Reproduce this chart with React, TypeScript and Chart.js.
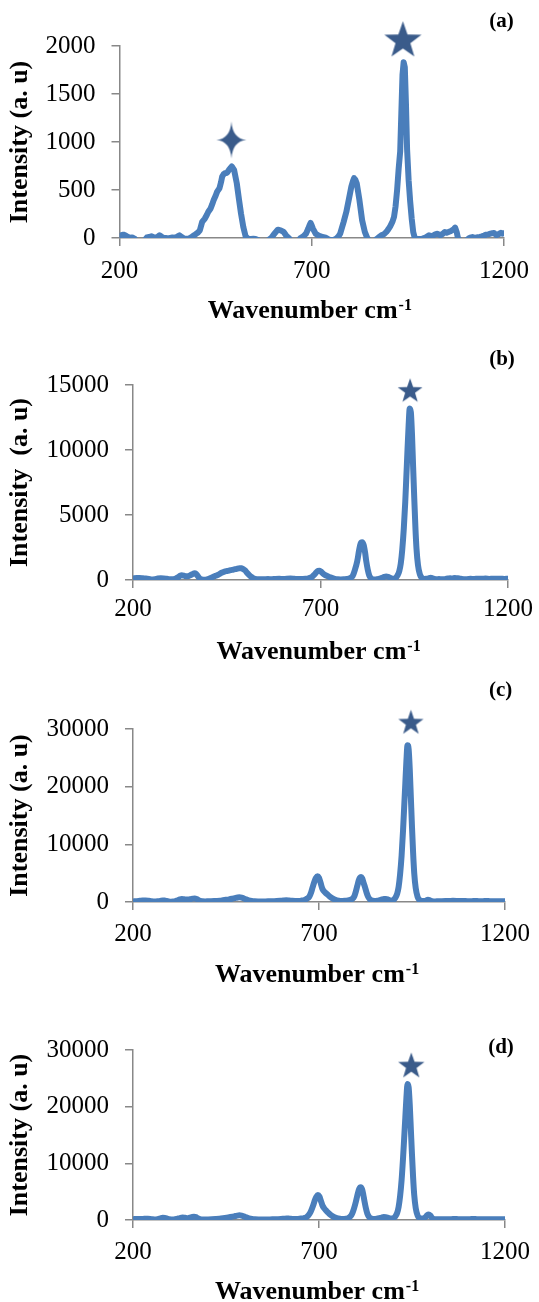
import React, { useEffect, useRef } from 'react';
import { Chart, registerables } from 'chart.js';

Chart.register(...registerables);

// ---------- data (wavenumber cm-1, intensity a.u.) ----------
const spectrumA: [number, number][] = [
  [200, 15], [205, 30], [210, 35], [216, 25], [222, 10], [227, 0], [233, 5], [240, -10], [246, -40], [252, -60],
  [260, -60], [266, -20], [271, 5], [277, 10], [283, 18], [289, 8], [295, 5], [300, 15], [304, 28], [309, 15],
  [314, 3], [320, 0], [326, -5], [332, 0], [338, 5], [344, 3], [350, 15], [356, 28], [362, 10], [368, -5],
  [375, -8], [381, -5], [386, 5], [390, 17], [395, 30], [400, 45], [405, 60], [409, 80], [415, 168], [422, 203],
  [427, 240], [431, 273], [437, 308], [441, 350], [445, 395], [450, 440], [454, 483], [460, 518], [464, 580], [467, 640],
  [471, 665], [474, 675], [480, 680], [486, 717], [492, 745], [498, 710], [505, 570], [511, 395], [516, 255], [522, 115],
  [528, 17], [535, -10], [542, -10], [548, -8], [554, -10], [560, -20], [566, -50], [574, -60], [582, -50], [588, -20],
  [595, 3], [603, 45], [608, 70], [612, 87], [619, 80], [627, 63], [633, 28], [642, -7], [648, -40], [656, -50],
  [664, -30], [672, 3], [679, 20], [685, 45], [691, 98], [694, 130], [697, 157], [700, 130], [703, 98], [710, 45],
  [716, 30], [723, 17], [730, 10], [736, 3], [742, -10], [748, -20], [756, -20], [762, -10], [766, 3], [770, 20],
  [774, 45], [778, 100], [783, 168], [790, 273], [797, 413], [803, 535], [807, 590], [810, 623], [813, 610], [817, 570],
  [824, 395], [831, 185], [838, 63], [844, 3], [850, -30], [858, -40], [866, -20], [873, 3], [881, 28], [888, 40],
  [894, 63], [899, 90], [904, 122], [910, 170], [914, 220], [918, 330], [922, 500], [926, 720], [930, 900], [933, 1300],
  [936, 1700], [939, 1830], [942, 1780], [945, 1400], [948, 920], [952, 600], [956, 380], [960, 200], [964, 60], [968, 0],
  [972, -10], [980, -10], [988, -7], [996, 5], [1005, 28], [1013, 20], [1020, 35], [1026, 45], [1035, 28], [1041, 45],
  [1046, 63], [1051, 55], [1056, 63], [1061, 70], [1065, 80], [1070, 95], [1073, 108], [1077, 60], [1080, 3], [1086, -30],
  [1094, -40], [1102, -25], [1108, -5], [1112, 3], [1118, 10], [1125, 0], [1132, 8], [1137, 12], [1142, 17], [1148, 25],
  [1154, 35], [1159, 38], [1165, 45], [1170, 50], [1174, 52], [1180, 30], [1186, 40], [1192, 55], [1196, 45], [1200, 50],
];

const spectrumB: [number, number][] = [
  [200, 120], [210, 150], [218, 160], [226, 130], [234, 110], [242, 80], [250, 40], [258, 60], [266, 110], [274, 130],
  [282, 120], [290, 90], [298, 60], [306, 50], [314, 120], [320, 200], [326, 330], [330, 370], [336, 330], [342, 280],
  [348, 300], [354, 380], [360, 470], [364, 520], [368, 480], [372, 330], [377, 150], [382, 50], [388, 20], [394, 30],
  [400, 70], [406, 130], [412, 220], [420, 320], [428, 420], [436, 560], [444, 650], [452, 700], [460, 760], [468, 800],
  [476, 860], [484, 910], [489, 900], [494, 840], [499, 740], [504, 560], [510, 380], [516, 230], [522, 120], [530, 60],
  [540, 50], [550, 60], [560, 70], [570, 60], [580, 80], [590, 90], [600, 70], [610, 100], [620, 110], [630, 90],
  [640, 70], [650, 80], [660, 90], [670, 150], [678, 250], [684, 420], [689, 600], [693, 700], [697, 710], [701, 650],
  [706, 520], [711, 400], [718, 300], [724, 230], [730, 160], [738, 90], [746, 50], [754, 40], [762, 50], [770, 80],
  [775, 110], [780, 160], [786, 320], [792, 800], [798, 1450], [803, 2300], [807, 2800], [811, 2900], [815, 2700], [819, 2100],
  [822, 1450], [826, 800], [830, 350], [835, 120], [840, 50], [846, 40], [852, 70], [858, 110], [864, 170], [870, 240],
  [875, 270], [880, 250], [885, 180], [890, 110], [895, 90], [900, 150], [905, 340], [910, 680], [914, 1260], [918, 2330],
  [922, 3900], [926, 6000], [929, 8000], [932, 10000], [935, 11900], [938, 13200], [941, 12900], [944, 11200], [947, 8700], [950, 6300],
  [953, 4100], [956, 2400], [960, 1150], [965, 430], [970, 170], [976, 80], [982, 90], [988, 120], [994, 170], [999, 130],
  [1004, 80], [1010, 60], [1016, 80], [1022, 60], [1028, 50], [1034, 80], [1040, 110], [1046, 130], [1052, 120], [1058, 150],
  [1064, 130], [1070, 120], [1076, 80], [1082, 60], [1088, 50], [1094, 70], [1100, 90], [1110, 80], [1120, 100], [1130, 90],
  [1140, 110], [1150, 80], [1160, 100], [1170, 90], [1180, 100], [1190, 80], [1200, 100],
];

const spectrumC: [number, number][] = [
  [200, 100], [210, 150], [218, 200], [226, 250], [234, 260], [242, 200], [250, 120], [258, 80], [266, 120], [274, 200],
  [280, 280], [285, 270], [290, 180], [296, 100], [302, 60], [308, 80], [314, 150], [320, 300], [326, 450], [331, 520],
  [337, 480], [343, 420], [349, 430], [355, 500], [361, 580], [366, 620], [371, 520], [376, 330], [381, 180], [387, 110],
  [394, 100], [402, 120], [410, 140], [418, 160], [426, 180], [434, 220], [442, 300], [450, 380], [458, 460], [466, 560],
  [474, 680], [481, 780], [486, 820], [492, 760], [498, 620], [504, 450], [511, 300], [519, 190], [527, 130], [536, 100],
  [546, 90], [556, 100], [566, 120], [576, 140], [586, 160], [596, 200], [604, 260], [612, 300], [620, 260], [628, 200],
  [636, 170], [644, 180], [652, 230], [661, 350], [668, 600], [674, 940], [679, 1700], [683, 2570], [688, 3600], [692, 4200],
  [696, 4450], [700, 4200], [704, 3400], [709, 2300], [716, 1700], [723, 1290], [729, 950], [736, 640], [744, 380], [753, 230],
  [762, 180], [770, 200], [778, 280], [784, 380], [790, 550], [795, 1000], [799, 1800], [803, 2800], [807, 3800], [810, 4200],
  [813, 4350], [816, 4100], [820, 3300], [824, 2500], [828, 1600], [832, 900], [837, 450], [843, 230], [850, 180], [857, 220],
  [863, 320], [869, 440], [875, 530], [880, 540], [886, 420], [892, 280], [898, 250], [905, 700], [910, 1400], [914, 2600],
  [918, 4800], [922, 8000], [926, 12500], [929, 16500], [932, 20500], [935, 24500], [938, 27200], [941, 26500], [944, 23000], [947, 18000],
  [950, 13000], [953, 8500], [956, 5000], [960, 2400], [965, 900], [970, 350], [976, 200], [982, 180], [988, 250], [993, 400],
  [998, 300], [1004, 150], [1012, 100], [1020, 120], [1030, 140], [1040, 160], [1050, 180], [1060, 200], [1070, 190], [1080, 170],
  [1090, 160], [1100, 150], [1110, 150], [1120, 160], [1130, 150], [1140, 150], [1150, 160], [1160, 150], [1170, 150], [1180, 150],
  [1190, 150], [1200, 150],
];

const spectrumD: [number, number][] = [
  [200, 150], [210, 170], [220, 190], [230, 200], [240, 210], [250, 150], [258, 100], [266, 150], [274, 280], [280, 380],
  [286, 370], [292, 240], [298, 130], [304, 80], [310, 100], [318, 200], [326, 330], [333, 420], [340, 380], [346, 330],
  [352, 400], [358, 500], [364, 580], [369, 520], [374, 330], [380, 170], [386, 100], [394, 90], [402, 100], [412, 130],
  [422, 170], [432, 220], [442, 300], [452, 400], [462, 520], [472, 650], [480, 770], [486, 820], [492, 770], [498, 640],
  [505, 460], [512, 300], [520, 190], [528, 130], [538, 100], [548, 90], [558, 100], [568, 110], [578, 130], [588, 150],
  [598, 180], [606, 230], [613, 270], [620, 240], [628, 180], [636, 160], [644, 180], [652, 250], [660, 350], [666, 500],
  [672, 850], [678, 1500], [684, 2500], [689, 3500], [693, 4100], [697, 4400], [701, 4150], [705, 3400], [709, 2600], [714, 2050],
  [720, 1600], [726, 1200], [732, 850], [740, 520], [748, 320], [756, 220], [764, 180], [772, 220], [778, 330], [784, 600],
  [789, 1100], [794, 2000], [799, 3200], [804, 4600], [808, 5500], [812, 5800], [816, 5400], [819, 4500], [822, 3400], [826, 2100],
  [830, 1100], [835, 500], [841, 250], [848, 180], [855, 220], [862, 320], [868, 430], [874, 510], [880, 500], [886, 390],
  [892, 280], [898, 260], [905, 620], [910, 1230], [914, 2300], [918, 4200], [922, 7000], [926, 11000], [929, 14500], [932, 18000],
  [935, 21600], [938, 24000], [941, 23400], [944, 20300], [947, 15900], [950, 11500], [953, 7500], [956, 4400], [960, 2100], [965, 800],
  [970, 350], [976, 250], [982, 300], [987, 550], [991, 850], [995, 950], [999, 800], [1003, 450], [1008, 200], [1015, 120],
  [1025, 130], [1035, 140], [1045, 150], [1055, 150], [1065, 160], [1075, 150], [1085, 150], [1095, 150], [1105, 150], [1115, 160],
  [1125, 150], [1135, 150], [1145, 150], [1155, 150], [1165, 150], [1175, 150], [1185, 150], [1195, 150], [1200, 150],
];

// peak markers (wavenumber, intensity)
const markersA: [number, number][] = [[937, 2055], [491, 1021]];
const markersB: [number, number][] = [[939, 14515]];
const markersC: [number, number][] = [[947, 31040]];
const markersD: [number, number][] = [[948, 27140]];

// axis ticks
const xTicks = { min: 200, max: 1200, step: 500 };
const yRangeA = { max: 2000, step: 500 };
const yRangeB = { max: 15000, step: 5000 };
const yRangeC = { max: 30000, step: 10000 };
const yRangeD = { max: 30000, step: 10000 };

// ---------- styling ----------
const FONT = "'Liberation Serif', 'Times New Roman', Times, serif";
const LINE_COLOR = '#4A7EBB';
const STAR_COLOR = '#3A5B8A';
const AXIS_COLOR = '#888888';
const W = 539;

function makeStar(R: number): HTMLCanvasElement {
  const s = Math.ceil(2 * R + 4);
  const c = document.createElement('canvas');
  c.width = s;
  c.height = s;
  const g = c.getContext('2d')!;
  const cx = s / 2;
  const cy = s / 2;
  const r = R * 0.4;
  g.beginPath();
  for (let i = 0; i < 10; i++) {
    const ang = -Math.PI / 2 + (i * Math.PI) / 5;
    const rad = i % 2 === 0 ? R : r;
    const px = cx + rad * Math.cos(ang);
    const py = cy + rad * Math.sin(ang);
    if (i === 0) g.moveTo(px, py);
    else g.lineTo(px, py);
  }
  g.closePath();
  g.fillStyle = STAR_COLOR;
  g.fill();
  return c;
}

function makeSparkle(hw: number, hh: number): HTMLCanvasElement {
  const w = Math.ceil(2 * hw + 4);
  const h = Math.ceil(2 * hh + 4);
  const c = document.createElement('canvas');
  c.width = w;
  c.height = h;
  const g = c.getContext('2d')!;
  const cx = w / 2;
  const cy = h / 2;
  const k = 1.2;
  g.beginPath();
  g.moveTo(cx, cy - hh);
  g.quadraticCurveTo(cx + k, cy - k, cx + hw, cy);
  g.quadraticCurveTo(cx + k, cy + k, cx, cy + hh);
  g.quadraticCurveTo(cx - k, cy + k, cx - hw, cy);
  g.quadraticCurveTo(cx - k, cy - k, cx, cy - hh);
  g.closePath();
  g.fillStyle = STAR_COLOR;
  g.fill();
  return c;
}

type PanelCfg = {
  data: [number, number][];
  markers: [number, number][];
  markerStyles: () => HTMLCanvasElement[];
  yRange: { max: number; step: number };
  yTitle: string;
  label: string;
  top: number;
  height: number;
  area: { left: number; right: number; top: number; bottom: number };
  xTickPad: number;
  xTitleBase: number;
  labelPos: [number, number];
  smooth: boolean;
};

const PANELS: PanelCfg[] = [
  {
    data: spectrumA, markers: markersA, markerStyles: () => [makeStar(19.5), makeSparkle(15, 18.5)],
    yRange: yRangeA, yTitle: 'Intensity (a. u)', label: '(a)', top: 0, height: 330,
    area: { left: 119.5, right: 511, top: 46, bottom: 238 }, xTickPad: 10, xTitleBase: 318, labelPos: [501.5, 21.5], smooth: false,
  },
  {
    data: spectrumB, markers: markersB, markerStyles: () => [makeStar(13)],
    yRange: yRangeB, yTitle: 'Intensity  (a. u)', label: '(b)', top: 330, height: 330,
    area: { left: 133, right: 510, top: 55, bottom: 250 }, xTickPad: 6, xTitleBase: 329, labelPos: [502, 30], smooth: true,
  },
  {
    data: spectrumC, markers: markersC, markerStyles: () => [makeStar(13.2)],
    yRange: yRangeC, yTitle: 'Intensity (a. u)', label: '(c)', top: 660, height: 330,
    area: { left: 133, right: 510, top: 69, bottom: 242 }, xTickPad: 9, xTitleBase: 321.5, labelPos: [500.7, 30.3], smooth: true,
  },
  {
    data: spectrumD, markers: markersD, markerStyles: () => [makeStar(13.8)],
    yRange: yRangeD, yTitle: 'Intensity (a. u)', label: '(d)', top: 990, height: 312,
    area: { left: 133, right: 510, top: 60, bottom: 230 }, xTickPad: 9, xTitleBase: 309, labelPos: [501, 57.5], smooth: true,
  },
];

function textPlugin(cfg: PanelCfg) {
  return {
    id: 'panelText',
    afterDraw(chart: any) {
      const { ctx, chartArea } = chart;
      ctx.save();
      ctx.fillStyle = '#000';
      // x-axis title with superscript
      const main = 'Wavenumber cm';
      const sup = '-1';
      ctx.font = `bold 26px ${FONT}`;
      const w1 = ctx.measureText(main).width;
      ctx.font = `bold 16px ${FONT}`;
      const w2 = ctx.measureText(sup).width;
      const total = w1 + 1 + w2;
      const cx = (chartArea.left + chartArea.right) / 2 - 2;
      const x0 = cx - total / 2;
      ctx.textBaseline = 'alphabetic';
      ctx.textAlign = 'left';
      ctx.font = `bold 26px ${FONT}`;
      ctx.fillText(main, x0, cfg.xTitleBase);
      ctx.font = `bold 16px ${FONT}`;
      ctx.fillText(sup, x0 + w1 + 1, cfg.xTitleBase - 8);
      // panel label
      ctx.font = `bold 21px ${FONT}`;
      ctx.textAlign = 'center';
      ctx.textBaseline = 'middle';
      ctx.fillText(cfg.label, cfg.labelPos[0], cfg.labelPos[1]);
      ctx.restore();
    },
  };
}

function Panel({ cfg }: { cfg: PanelCfg }) {
  const ref = useRef<HTMLCanvasElement>(null);
  useEffect(() => {
    const canvas = ref.current;
    if (!canvas) return;
    const H = cfg.height;
    const a = cfg.area;
    const tickFont = { family: FONT, size: 25 };
    const chart = new Chart(canvas, {
      type: 'line',
      data: {
        datasets: [
          {
            data: cfg.markers.map(([x, y]) => ({ x, y })),
            showLine: false,
            pointStyle: cfg.markerStyles() as any,
            pointRadius: 22,
            pointHoverRadius: 22,
            clip: false as any,
            order: 0,
          },
          {
            data: cfg.data.map(([x, y]) => ({ x, y })),
            borderColor: LINE_COLOR,
            borderWidth: 6,
            pointRadius: 0,
            fill: false,
            tension: cfg.smooth ? 0.4 : 0,
            cubicInterpolationMode: cfg.smooth ? 'monotone' : 'default',
            borderJoinStyle: 'round',
            borderCapStyle: 'round',
            order: 1,
          },
        ],
      },
      options: {
        responsive: false,
        animation: false,
        devicePixelRatio: 1,
        events: [],
        layout: { padding: { top: a.top, right: W - a.right, left: 0, bottom: 0 } },
        plugins: { legend: { display: false }, tooltip: { enabled: false } },
        scales: {
          x: {
            type: 'linear',
            position: 'bottom',
            min: xTicks.min,
            max: xTicks.max,
            ticks: {
              stepSize: xTicks.step,
              autoSkip: false,
              maxRotation: 0,
              padding: cfg.xTickPad,
              color: '#000',
              font: tickFont,
              callback: (v: any) => String(v),
            },
            grid: { drawOnChartArea: false, color: AXIS_COLOR, lineWidth: 1.5, tickLength: 8 },
            border: { display: true, color: AXIS_COLOR, width: 1.5 },
            title: { display: false },
            afterFit: (s: any) => {
              s.height = H - a.bottom;
            },
          },
          y: {
            type: 'linear',
            position: 'left',
            min: 0,
            max: cfg.yRange.max,
            ticks: {
              stepSize: cfg.yRange.step,
              autoSkip: false,
              padding: 16,
              color: '#000',
              font: tickFont,
              callback: (v: any) => String(v),
            },
            grid: { drawOnChartArea: false, color: AXIS_COLOR, lineWidth: 1.5, tickLength: 8 },
            border: { display: true, color: AXIS_COLOR, width: 1.5 },
            title: {
              display: true,
              text: cfg.yTitle,
              color: '#000',
              font: { family: FONT, size: 26, weight: 'bold' },
              padding: { top: 5, bottom: 0 },
            },
            afterFit: (s: any) => {
              s.width = a.left;
            },
          },
        },
      },
      plugins: [textPlugin(cfg)],
    } as any);
    let alive = true;
    if ((document as any).fonts && (document as any).fonts.ready) {
      (document as any).fonts.ready.then(() => {
        if (alive) chart.update();
      });
    }
    return () => {
      alive = false;
      chart.destroy();
    };
  }, [cfg]);
  return (
    <canvas
      ref={ref}
      width={W}
      height={cfg.height}
      style={{ position: 'absolute', left: 0, top: cfg.top, display: 'block', width: W, height: cfg.height }}
    />
  );
}

export default function App() {
  return (
    <div style={{ position: 'absolute', left: 0, top: 0, width: W, height: 1302, background: '#fff', overflow: 'hidden' }}>
      {PANELS.map((p) => (
        <Panel key={p.label} cfg={p} />
      ))}
    </div>
  );
}
